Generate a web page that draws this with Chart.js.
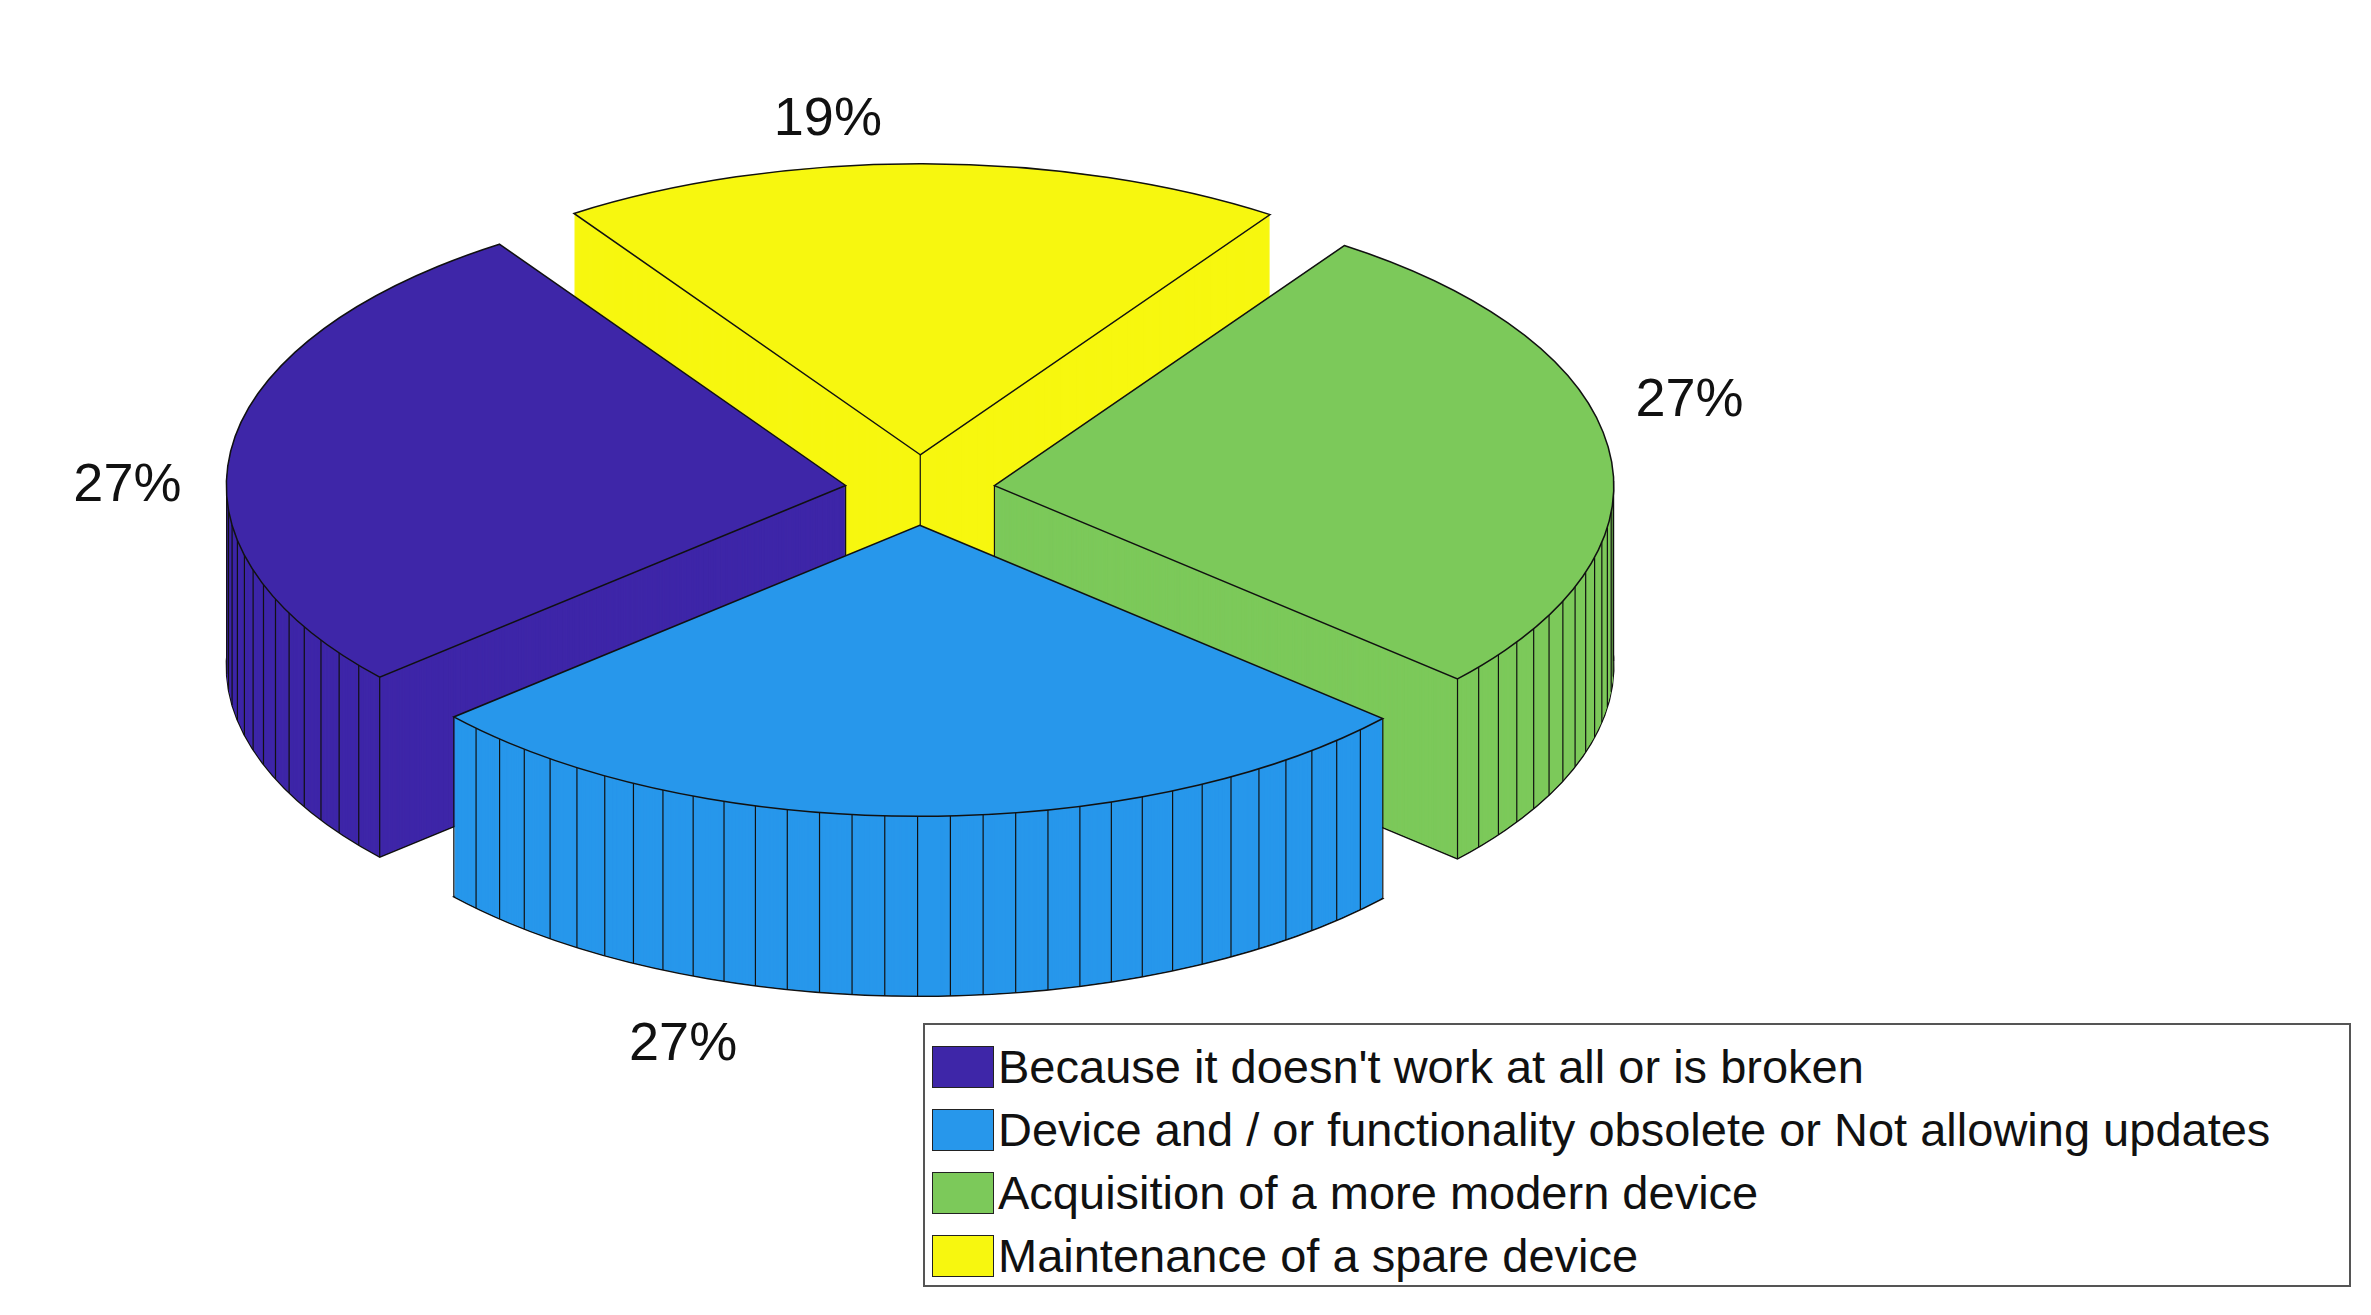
<!DOCTYPE html>
<html>
<head>
<meta charset="utf-8">
<script src="https://cdn.jsdelivr.net/npm/chart.js@4.4.0/dist/chart.umd.min.js"></script>
<style>
  body { margin: 0; background: #fff; }
  #wrap { position: relative; width: 2371px; height: 1315px; }
  #legend { position: absolute; left: 923px; top: 1023px; width: 1428px; height: 264px; border: 2px solid #555; box-sizing: border-box; background: #fff;
    font-family: 'Liberation Sans', Arial, sans-serif; font-size: 47px; color: #111; padding-top: 10px; }
  .row { display: flex; align-items: center; height: 63px; padding-left: 7px; }
  .sw { width: 62px; height: 42px; border: 1.5px solid #222; box-sizing: border-box; margin-right: 4px; }
</style>
</head>
<body>
<div id="wrap">
  <canvas id="pie" width="2371" height="1315"></canvas>
  <div id="legend"></div>
</div>
<script>
// legend order (as in the source figure)
const categories = [
  "Because it doesn't work at all or is broken",
  "Device and / or functionality obsolete or Not allowing updates",
  "Acquisition of a more modern device",
  "Maintenance of a spare device"
];
const values = [27, 27, 27, 19];
const colors = ['#3E26A8', '#2797EB', '#7CC95A', '#F7F70F'];
const pctLabels = ['27%', '27%', '27%', '19%'];

// chart.js draws clockwise, the figure runs counter-clockwise -> reverse
const order = [3, 2, 1, 0];

const CX = 920, CY = 490, K = 1.0, SQ = 0.47, DEPTH = 180;

function center(chart) {
  const a = chart.chartArea;
  return [(a.left + a.right) / 2, (a.top + a.bottom) / 2];
}

function tf(ctx, chart, d) {
  const [cx, cy] = center(chart);
  ctx.setTransform(K, 0, 0, K * SQ, CX - K * cx, CY + d - K * SQ * cy);
}

function project(chart, x, y, d) {
  const [cx, cy] = center(chart);
  return [CX + K * (x - cx), CY + d + K * SQ * (y - cy)];
}

function origin(el) {
  const mid = (el.startAngle + el.endAngle) / 2;
  const off = el.options.offset || 0;
  return [el.x + Math.cos(mid) * off, el.y + Math.sin(mid) * off];
}

function slicePath(ctx, el) {
  const [x, y] = origin(el);
  ctx.beginPath();
  ctx.moveTo(x, y);
  ctx.arc(x, y, el.outerRadius, el.startAngle, el.endAngle);
  ctx.closePath();
}

const pie3d = {
  id: 'pie3d',
  beforeDatasetsDraw(chart) {
    const ctx = chart.ctx;
    const els = chart.getDatasetMeta(0).data.slice();
    const sorted = els.slice().sort((p, q) =>
      Math.sin((p.startAngle + p.endAngle) / 2) - Math.sin((q.startAngle + q.endAngle) / 2));
    ctx.save();
    sorted.forEach(el => {
      const col = el.options.backgroundColor;
      tf(ctx, chart, DEPTH);
      slicePath(ctx, el);
      ctx.fillStyle = col; ctx.fill();
      ctx.setTransform(1, 0, 0, 1, 0, 0);
      ctx.strokeStyle = '#111'; ctx.lineWidth = 1.5; ctx.stroke();
      for (let d = DEPTH - 1; d >= 0; d--) {
        tf(ctx, chart, d);
        slicePath(ctx, el);
        ctx.fill();
      }
      // facet lines on the visible outer wall
      ctx.setTransform(1, 0, 0, 1, 0, 0);
      const [ox, oy] = origin(el);
      const n = Math.round((el.endAngle - el.startAngle) / (Math.PI / 60));
      ctx.lineWidth = 1.2;
      for (let j = 0; j <= n; j++) {
        const ang = el.startAngle + (el.endAngle - el.startAngle) * j / n;
        if (Math.sin(ang) < -0.02) continue;
        const px = ox + Math.cos(ang) * el.outerRadius, py = oy + Math.sin(ang) * el.outerRadius;
        const t = project(chart, px, py, 0), b = project(chart, px, py, DEPTH);
        ctx.beginPath(); ctx.moveTo(t[0], t[1]); ctx.lineTo(b[0], b[1]); ctx.stroke();
      }
      const c0 = project(chart, ox, oy, 0), c1 = project(chart, ox, oy, DEPTH);
      ctx.beginPath(); ctx.moveTo(c0[0], c0[1]); ctx.lineTo(c1[0], c1[1]); ctx.stroke();
    });
    // top faces
    els.forEach(el => {
      tf(ctx, chart, 0);
      slicePath(ctx, el);
      ctx.fillStyle = el.options.backgroundColor; ctx.fill();
      ctx.setTransform(1, 0, 0, 1, 0, 0);
      ctx.strokeStyle = '#111'; ctx.lineWidth = 1.5; ctx.stroke();
    });
    // percentage labels
    ctx.font = '54px "Liberation Sans", Arial, sans-serif';
    ctx.fillStyle = '#111';
    ctx.textAlign = 'center'; ctx.textBaseline = 'middle';
    els.forEach((el, i) => {
      let mid = (el.startAngle + el.endAngle) / 2;
      const low = Math.sin(mid) > 0.3;
      if (low) mid += 0.3;
      else mid -= 0.12;
      const r = el.outerRadius * 1.28;
      const p = project(chart, el.x + Math.cos(mid) * r, el.y + Math.sin(mid) * r, low ? DEPTH + 20 : 0);
      ctx.fillText(pctLabels[order[i]], p[0], p[1]);
    });
    ctx.restore();
    return false;
  }
};

new Chart(document.getElementById('pie'), {
  type: 'pie',
  data: {
    labels: order.map(i => categories[i]),
    datasets: [{
      data: order.map(i => values[i]),
      backgroundColor: order.map(i => colors[i]),
      borderColor: '#111',
      borderWidth: 1.5,
      offset: 75
    }]
  },
  options: {
    responsive: false,
    devicePixelRatio: 1,
    animation: false,
    rotation: -34,
    layout: { padding: { left: 220, right: 736, top: 0, bottom: 0 } },
    events: [],
    plugins: { legend: { display: false }, tooltip: { enabled: false } }
  },
  plugins: [pie3d]
});

document.getElementById('legend').innerHTML = categories.map((c, i) =>
  `<div class="row"><div class="sw" style="background:${colors[i]}"></div><span>${c}</span></div>`).join('');
</script>
</body>
</html>
